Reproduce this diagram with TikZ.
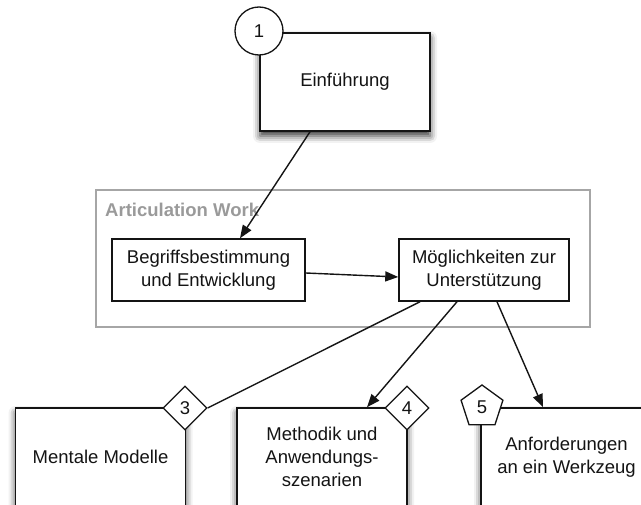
\documentclass[tikz,border=0pt]{standalone}
\usepackage{fontspec}
\setmainfont{Liberation Sans}
\usetikzlibrary{shapes.geometric,arrows.meta,shadows.blur}

\definecolor{ink}{HTML}{141414}
\definecolor{framegray}{HTML}{A6A6A6}
\definecolor{labelgray}{HTML}{9A9A9A}

\tikzset{
  chapter/.style={draw=ink, fill=white, line width=1.6pt, inner sep=0pt,
    minimum width=170pt, minimum height=98pt, align=center, text=ink,
    blur shadow={shadow xshift=0pt, shadow yshift=-5pt,
      shadow blur radius=7pt, shadow opacity=80}},
  topic/.style={draw=ink, fill=white, line width=1.5pt, inner sep=0pt,
    minimum height=62pt, align=center, text=ink},
  badge/.style={draw=ink, fill=white, line width=1.3pt, inner sep=0pt,
    text=ink, minimum size=44pt},
  link/.style={draw=ink, line width=1.4pt},
  flow/.style={link, -{Triangle[length=13pt,width=10pt]}},
}

\begin{document}
\begin{tikzpicture}[x=1pt, y=-1pt, font=\fontsize{18.5}{23}\selectfont]
\useasboundingbox (0,0) rectangle (641,505);

% group frame
\node[draw=framegray, line width=1.5pt, minimum width=494pt, minimum height=137pt,
  inner sep=0pt] (frame) at (343,258.5) {};
\node[anchor=west, inner sep=0pt, text=labelgray, font=\fontsize{18.5}{23}\selectfont\bfseries]
  (awlabel) at (105,210) {Articulation Work};

% chapters
\node[chapter] (intro) at (345,82) {Einführung};
\node[chapter] (mental) at (100.5,457) {Mentale Modelle};
\node[chapter] (method) at (322,457) {Methodik und\\Anwendungs-\\szenarien};
\node[chapter, minimum width=171pt] (anford) at (566.5,457) {Anforderungen\\an ein Werkzeug};

% topics inside the frame
\node[topic, minimum width=193pt] (begr) at (208.5,270) {Begriffsbestimmung\\und Entwicklung};
\node[topic, minimum width=170pt] (moeg) at (484,270) {Möglichkeiten zur\\Unterstützung};

% chapter badges
\node[badge, circle, minimum size=48pt] (c1) at (259,31) {1};
\node[badge, diamond, shape aspect=1] (d3) at (185,408) {3};
\node[badge, diamond, shape aspect=1] (d4) at (407,408) {4};
\node[badge, regular polygon, regular polygon sides=5] (p5) at (482,407) {5};

% connectors
\draw[flow] ([xshift=-35pt]intro.south) -- ([xshift=31.5pt]begr.north);
\draw[flow] ([yshift=-3pt]begr.east) -- ([yshift=-7pt]moeg.west);
\draw[link] ([xshift=-64pt]moeg.south) -- (d3.east);
\draw[flow] ([xshift=-27pt]moeg.south) -- ([xshift=45pt]method.north);
\draw[flow] ([xshift=13pt]moeg.south) -- ([xshift=-23.5pt]anford.north);
\end{tikzpicture}
\end{document}
